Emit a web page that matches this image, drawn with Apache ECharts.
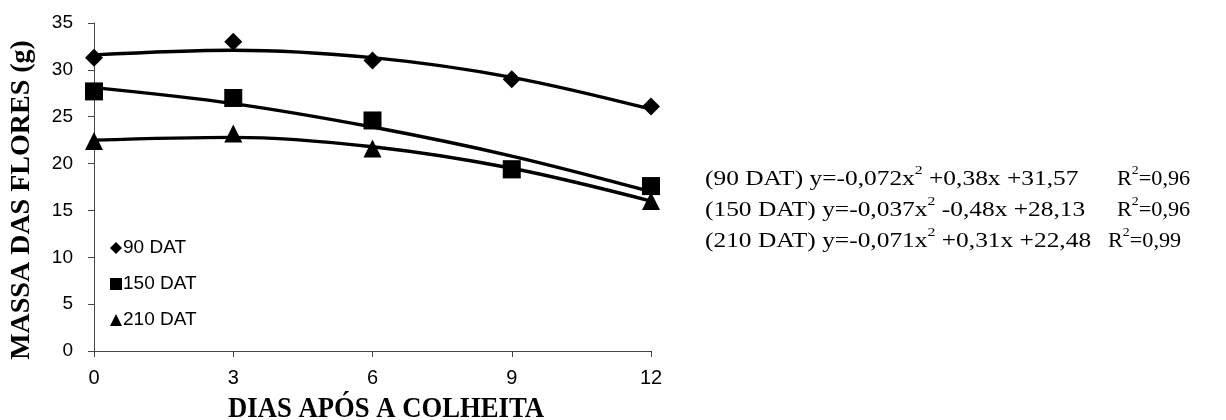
<!DOCTYPE html>
<html>
<head>
<meta charset="utf-8">
<script src="https://cdn.jsdelivr.net/npm/echarts@6/dist/echarts.min.js"></script>
<style>html,body{margin:0;padding:0;background:#fff}#c{width:1226px;height:420px}</style>
</head>
<body>
<div id="c"></div>
<script>
// Data
var days = [0, 3, 6, 9, 12];
var names = ['90 DAT', '150 DAT', '210 DAT'];
var obs90 = [31.3, 33.0, 31.0, 29.0, 26.1];
var obs150 = [27.7, 27.0, 24.6, 19.4, 17.6];
var obs210 = [22.4, 23.2, 21.6, 19.4, 16.0];
// fitted trend curve values
var fit90 = [31.6, 32.1, 31.3, 29.2, 25.8];
var fit150 = [28.1, 26.4, 23.9, 20.8, 17.0];
var fit210 = [22.5, 22.8, 21.8, 19.5, 16.0];
var yTicks = [0, 5, 10, 15, 20, 25, 30, 35];
var xTicks = [0, 3, 6, 9, 12];
var eqMain = ['(90 DAT) y=-0,072x', '(150 DAT) y=-0,037x', '(210 DAT) y=-0,071x'];
var eqRest = [' +0,38x +31,57', ' -0,48x +28,13', ' +0,31x +22,48'];
var r2Vals = ['0,96', '0,96', '0,99'];

function pairs(xs, ys) { return xs.map(function (x, i) { return [x, ys[i]]; }); }

var chart = echarts.init(document.getElementById('c'), null, {renderer: 'canvas'});
var symbols = ['diamond', 'rect', 'triangle'];
var symSizes = [18, 18, 18];
var obs = [obs90, obs150, obs210];
var fits = [fit90, fit150, fit210];

var series = [];
for (var i = 0; i < 3; i++) {
  series.push({
    name: names[i] + ' fit', type: 'line', data: pairs(days, fits[i]),
    smooth: 0.35, showSymbol: false, symbol: 'none',
    lineStyle: {color: '#000', width: 3.4}, z: 2, silent: true
  });
}
for (var j = 0; j < 3; j++) {
  series.push({
    name: names[j], type: 'scatter', data: pairs(days, obs[j]),
    symbol: symbols[j], symbolSize: symSizes[j],
    itemStyle: {color: '#000', opacity: 1}, z: 3
  });
}

var richStyle = {
  a: {fontFamily: 'Liberation Serif', fontSize: 21, fill: '#000', verticalAlign: 'bottom', lineHeight: 26},
  s: {fontFamily: 'Liberation Serif', fontSize: 13, fill: '#000', verticalAlign: 'top', lineHeight: 26, padding: [0, 0, 12, 0]}
};
var graphics = [];
var rowY = [177, 208, 239];
var r2X = [1117, 1117, 1108];
for (var k = 0; k < 3; k++) {
  graphics.push({
    type: 'text', x: 705, y: rowY[k], scaleX: 1.21,
    style: {
      text: '{a|' + eqMain[k] + '}{s|2}{a|' + eqRest[k] + '}',
      verticalAlign: 'middle', rich: richStyle
    }
  });
  graphics.push({
    type: 'text', x: r2X[k], y: rowY[k], scaleX: 1.06,
    style: {
      text: '{a|R}{s|2}{a|=' + r2Vals[k] + '}',
      verticalAlign: 'middle', rich: richStyle
    }
  });
}
graphics.push({
  type: 'text', x: 228, y: 395, scaleX: 0.92,
  style: {text: 'DIAS APÓS A COLHEITA', fontFamily: 'Liberation Serif', fontWeight: 'bold', fontSize: 29, fill: '#000'}
});
graphics.push({
  type: 'text', x: 22, y: 200, rotation: Math.PI / 2,
  style: {text: 'MASSA DAS FLORES (g)', fontFamily: 'Liberation Serif', fontWeight: 'bold', fontSize: 28, fill: '#000', align: 'center', verticalAlign: 'middle'}
});

chart.setOption({
  animation: false,
  backgroundColor: '#fff',
  grid: {left: 94, right: 575, top: 23, bottom: 69, containLabel: false},
  legend: {
    data: [
      {name: names[0], icon: 'diamond'},
      {name: names[1], icon: 'rect'},
      {name: names[2], icon: 'triangle'}
    ],
    orient: 'vertical', left: 105, top: 233, itemWidth: 12, itemHeight: 12, itemGap: 16,
    textStyle: {fontFamily: 'Liberation Sans', fontSize: 19, lineHeight: 20, color: '#000', padding: [0, 0, 0, -4]},
    itemStyle: {color: '#000'}, selectedMode: false
  },
  xAxis: {
    type: 'value', min: xTicks[0], max: xTicks[xTicks.length - 1], interval: 3,
    axisLine: {show: true, lineStyle: {color: '#444', width: 1}},
    axisTick: {show: true, length: 6, inside: false, lineStyle: {color: '#444'}},
    axisLabel: {fontFamily: 'Liberation Sans', fontSize: 20, color: '#000', margin: 17},
    splitLine: {show: false}
  },
  yAxis: {
    type: 'value', min: yTicks[0], max: yTicks[yTicks.length - 1], interval: 5,
    axisLine: {show: true, lineStyle: {color: '#444', width: 1}},
    axisTick: {show: true, length: 6, lineStyle: {color: '#444'}},
    axisLabel: {fontFamily: 'Liberation Sans', fontSize: 19, color: '#000', margin: 21},
    splitLine: {show: false}
  },
  series: series,
  graphic: graphics
});
</script>
</body>
</html>
